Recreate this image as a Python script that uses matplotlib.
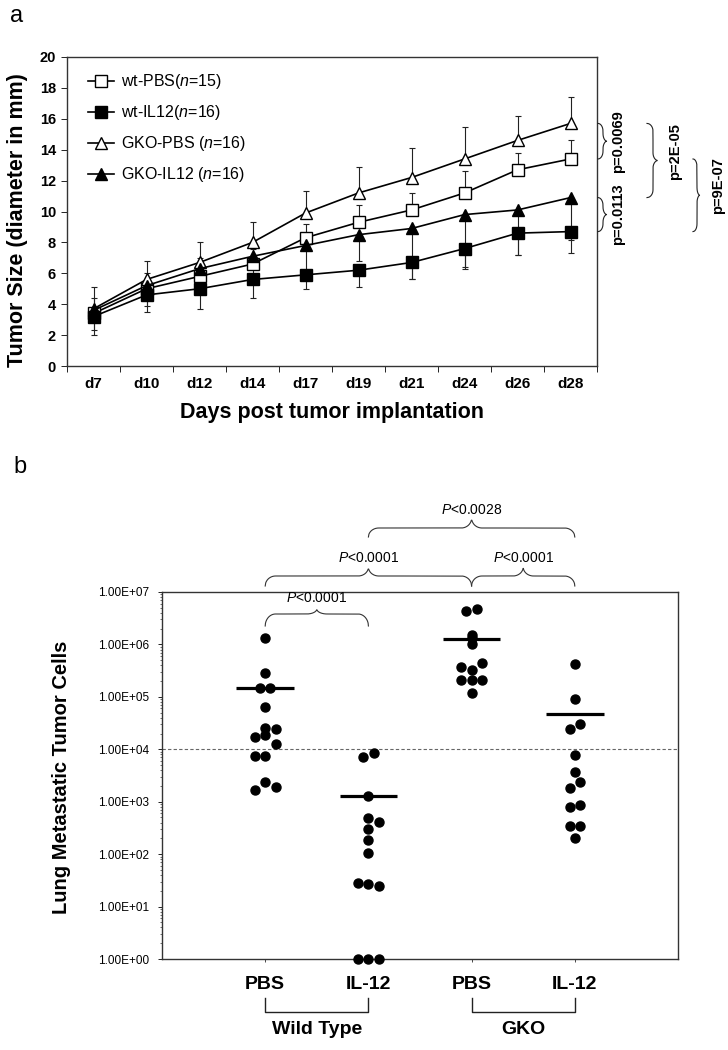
import numpy as np
import matplotlib
matplotlib.use('Agg')
import matplotlib.pyplot as plt
from matplotlib import transforms
from matplotlib.lines import Line2D

plt.rcParams['font.family'] = ['Liberation Sans', 'DejaVu Sans']
plt.rcParams['mathtext.fontset'] = 'custom'
plt.rcParams['mathtext.it'] = 'Liberation Sans:italic'
plt.rcParams['mathtext.rm'] = 'Liberation Sans'

# ---------------- data: panel a ----------------
days = ['d7', 'd10', 'd12', 'd14', 'd17', 'd19', 'd21', 'd24', 'd26', 'd28']
wt_pbs = [3.4, 5.0, 5.8, 6.6, 8.3, 9.3, 10.1, 11.2, 12.7, 13.4]
wt_il12 = [3.2, 4.6, 5.0, 5.6, 5.9, 6.2, 6.7, 7.6, 8.6, 8.7]
gko_pbs = [3.7, 5.6, 6.7, 8.0, 9.9, 11.2, 12.2, 13.4, 14.6, 15.7]
gko_il12 = [3.6, 5.2, 6.3, 7.1, 7.8, 8.5, 8.9, 9.8, 10.1, 10.9]
wt_pbs_sd = [1.0, 1.0, 1.2, 1.0, 0.9, 1.1, 1.1, 1.4, 1.1, 1.2]
wt_il12_sd = [1.2, 1.1, 1.3, 1.2, 0.9, 1.1, 1.1, 1.3, 1.4, 1.4]
gko_pbs_sd = [1.4, 1.2, 1.3, 1.3, 1.4, 1.7, 1.9, 2.1, 1.6, 1.7]
gko_il12_sd = [1.3, 1.3, 1.6, 1.6, 2.0, 1.7, 3.3, 3.4, 2.9, 2.75]
labels_a = [r'wt-PBS($\it{n}$=15)', r'wt-IL12($\it{n}$=16)',
            r'GKO-PBS ($\it{n}$=16)', r'GKO-IL12 ($\it{n}$=16)']
pvals_a = ['p=0.0069', 'p=0.0113', 'p=2E-05', 'p=9E-07']

# ---------------- data: panel b ----------------
groups_b = ['PBS', 'IL-12', 'PBS', 'IL-12']
genotypes = ['Wild Type', 'GKO']
wt_pbs_cells = [1.35e6, 2.9e5, 1.5e5, 1.5e5, 6.3e4, 2.6e4, 2.4e4, 1.9e4, 1.7e4,
                1.26e4, 7.6e3, 7.6e3, 2.4e3, 1.95e3, 1.66e3]
wt_pbs_off = [0, 0, -0.05, 0.05, 0, 0, 0.1, 0, -0.1, 0.1, -0.1, 0, 0, 0.1, -0.1]
wt_il12_cells = [8.5e3, 7.1e3, 1.3e3, 480, 410, 300, 186, 105, 28, 27, 25, 1, 1, 1]
wt_il12_off = [0.05, -0.05, 0, 0, 0.1, 0, 0, 0, -0.1, 0, 0.1, -0.1, 0, 0.1]
gko_pbs_cells = [4.8e6, 4.4e6, 1.5e6, 1.3e6, 1.0e6, 4.4e5, 3.7e5, 3.2e5,
                 2.1e5, 2.1e5, 2.1e5, 1.2e5]
gko_pbs_off = [0.05, -0.05, 0, 0, 0, 0.1, -0.1, 0, -0.1, 0, 0.1, 0]
gko_il12_cells = [4.3e5, 9.1e4, 3.0e4, 2.4e4, 7.8e3, 3.7e3, 2.4e3, 1.86e3,
                  850, 780, 350, 350, 205]
gko_il12_off = [0, 0, 0.05, -0.05, 0, 0, 0.05, -0.05, 0.05, -0.05, -0.05, 0.05, 0]
means_b = [1.5e5, 1.3e3, 1.26e6, 4.8e4]
threshold_b = 1e4
pvals_b = ['<0.0001', '<0.0001', '<0.0001', '<0.0028']

# ---------------- figure ----------------
W, H = 728, 1050
fig = plt.figure(figsize=(W / 100, H / 100), dpi=100)


def fx(px):
    return px / W


def fy(py):
    return 1 - py / H


def px_axes(l, t, r, b):
    return fig.add_axes([l / W, 1 - b / H, (r - l) / W, (b - t) / H])


def brace(a0, a1, tip, flat, peak, curl, n=400):
    t = np.linspace(a0, a1, n)
    mid = (a0 + a1) / 2
    d_end = np.minimum(np.abs(t - a0), np.abs(a1 - t))
    d_mid = np.abs(t - mid)
    u1 = np.clip(d_end / curl, 0, 1)
    u2 = np.clip(d_mid / curl, 0, 1)
    f1 = np.sqrt(1 - (1 - u1) ** 2)
    f2 = 1 - np.sqrt(1 - (1 - u2) ** 2)
    across = tip + (flat - tip) * f1 + (peak - flat) * f2
    return t, across


# ---------------- panel a ----------------
axA = px_axes(67, 57, 597, 366)
x = np.arange(len(days))
series = [
    (wt_pbs, wt_pbs_sd, 'up', 's', 'white', 8),
    (wt_il12, wt_il12_sd, 'down', 's', 'black', 8),
    (gko_pbs, gko_pbs_sd, 'up', '^', 'white', 9),
    (gko_il12, gko_il12_sd, 'down', '^', 'black', 9),
]
handles = []
for (vals, sd, d, mk, fc, ms), lab in zip(series, labels_a):
    sd = np.array(sd)
    z = np.zeros_like(sd)
    yerr = [z, sd] if d == 'up' else [sd, z]
    axA.errorbar(x, vals, yerr=yerr, fmt='none', ecolor='#222', elinewidth=0.8,
                 capsize=2.5, capthick=0.8, zorder=2)
    h, = axA.plot(x, vals, '-', color='black', lw=1.2, marker=mk, mfc=fc,
                  mec='black', mew=1.0, ms=ms, zorder=3, label=lab)
    handles.append(h)

axA.set_xlim(-0.5, len(days) - 0.5)
axA.set_ylim(0, 20)
axA.set_yticks(np.arange(0, 21, 2))
axA.set_xticks(x)
axA.set_xticklabels(days, fontsize=11, fontweight='bold')
axA.set_xticks(np.arange(-0.5, len(days), 1), minor=True)
axA.tick_params(axis='x', which='major', length=0, pad=8)
axA.tick_params(axis='x', which='minor', length=4, width=0.6, direction='out')
axA.tick_params(axis='y', length=4, width=0.6, pad=4)
for lbl in axA.get_yticklabels():
    lbl.set_fontsize(10.5)
    lbl.set_fontweight('bold')
for s in axA.spines.values():
    s.set_color('#333')
    s.set_linewidth(1.0)
axA.set_xlabel('Days post tumor implantation', fontsize=15.5, fontweight='bold',
               labelpad=8)
fig.text(fx(18), fy(220), 'Tumor Size (diameter in mm)', rotation=90,
         fontsize=15.5, fontweight='bold', ha='center', va='center')
axA.legend(handles=handles, loc='upper left', bbox_to_anchor=(0.04, 0.95),
           frameon=False, fontsize=11.5, handlelength=1.6, handletextpad=0.45,
           labelspacing=0.75, borderpad=0, borderaxespad=0)

trA = transforms.blended_transform_factory(fig.transFigure, axA.transData)
pairs_a = [(gko_pbs, wt_pbs), (gko_il12, wt_il12), (gko_pbs, gko_il12), (wt_pbs, wt_il12)]
brace_x = [(598, 603, 607), (598, 603, 607), (647, 653, 658), (693, 697, 700)]
text_x = [618, 618, 675, 718]
text_dy = [0, 0, 0.6, 0.6]
for (s1, s2), (tp, fl, pk), tx, dy, pv in zip(pairs_a, brace_x, text_x, text_dy, pvals_a):
    a0, a1 = s2[-1], s1[-1]
    yy, xx = brace(a0, a1, fx(tp), fx(fl), fx(pk), 0.5)
    fig.add_artist(Line2D(xx, yy, transform=trA, color='#222', lw=0.8))
    fig.text(fx(tx), (a0 + a1) / 2 + dy, pv, transform=trA, rotation=90,
             fontsize=10.5, fontweight='bold', ha='center', va='center')

fig.text(fx(17), fy(16), 'a', fontsize=17, ha='center', va='center')

# ---------------- panel b ----------------
axB = px_axes(162, 592, 678, 959)
cells = [wt_pbs_cells, wt_il12_cells, gko_pbs_cells, gko_il12_cells]
offs = [wt_pbs_off, wt_il12_off, gko_pbs_off, gko_il12_off]
pos = np.arange(1, len(cells) + 1)
for p, vals, off, m in zip(pos, cells, offs, means_b):
    axB.plot(p + np.array(off), vals, 'o', color='black', ms=6.5, clip_on=False,
             zorder=3)
    axB.plot([p - 0.28, p + 0.28], [m, m], color='black', lw=2.3,
             solid_capstyle='butt', zorder=4)
axB.axhline(threshold_b, color='#666', ls=(0, (3, 2)), lw=0.8, zorder=1)
axB.set_yscale('log')
axB.set_ylim(1, 1e7)
axB.set_xlim(0, 5)
axB.set_yticks([10.0 ** k for k in range(8)])
axB.yaxis.set_major_formatter(matplotlib.ticker.FuncFormatter(lambda v, _: f'{v:.2E}'))
axB.yaxis.set_minor_locator(matplotlib.ticker.LogLocator(base=10, subs=np.arange(2, 10)))
axB.yaxis.set_minor_formatter(matplotlib.ticker.NullFormatter())
axB.tick_params(axis='y', which='major', length=3, width=0.6, labelsize=8.5, pad=6)
axB.tick_params(axis='y', which='minor', length=1.5, width=0.4)
axB.set_xticks(pos)
axB.set_xticklabels(groups_b, fontsize=14, fontweight='bold')
axB.tick_params(axis='x', length=2, width=0.5, pad=10)
for s in axB.spines.values():
    s.set_color('#333')
    s.set_linewidth(1.0)
fig.text(fx(62), fy(777), 'Lung Metastatic Tumor Cells', rotation=90,
         fontsize=14.5, fontweight='bold', ha='center', va='center')

trB = transforms.blended_transform_factory(axB.transData, fig.transFigure)
braces_b = [(1, 2, 626, 614, 609, 598), (1, 3, 586, 576, 567, 558),
            (3, 4, 586, 576, 567, 558), (2, 4, 537, 528, 518, 510)]
for (g0, g1, tp, fl, pk, ty), pv in zip(braces_b, pvals_b):
    xx, yy = brace(g0, g1, fy(tp), fy(fl), fy(pk), 0.1)
    fig.add_artist(Line2D(xx, yy, transform=trB, color='#333', lw=0.8))
    fig.text((g0 + g1) / 2, fy(ty), r'$\it{P}$' + pv, transform=trB,
             fontsize=10, ha='center', va='center')

for k, gname in enumerate(genotypes):
    g0, g1 = pos[2 * k], pos[2 * k + 1]
    fig.add_artist(Line2D([g0, g0, g1, g1], [fy(998), fy(1012), fy(1012), fy(998)],
                          transform=trB, color='#222', lw=1.0))
    fig.text((g0 + g1) / 2, fy(1029), gname, transform=trB, fontsize=14,
             fontweight='bold', ha='center', va='center')

fig.text(fx(20), fy(467), 'b', fontsize=17, ha='center', va='center')

fig.savefig('out.png', dpi=100)
